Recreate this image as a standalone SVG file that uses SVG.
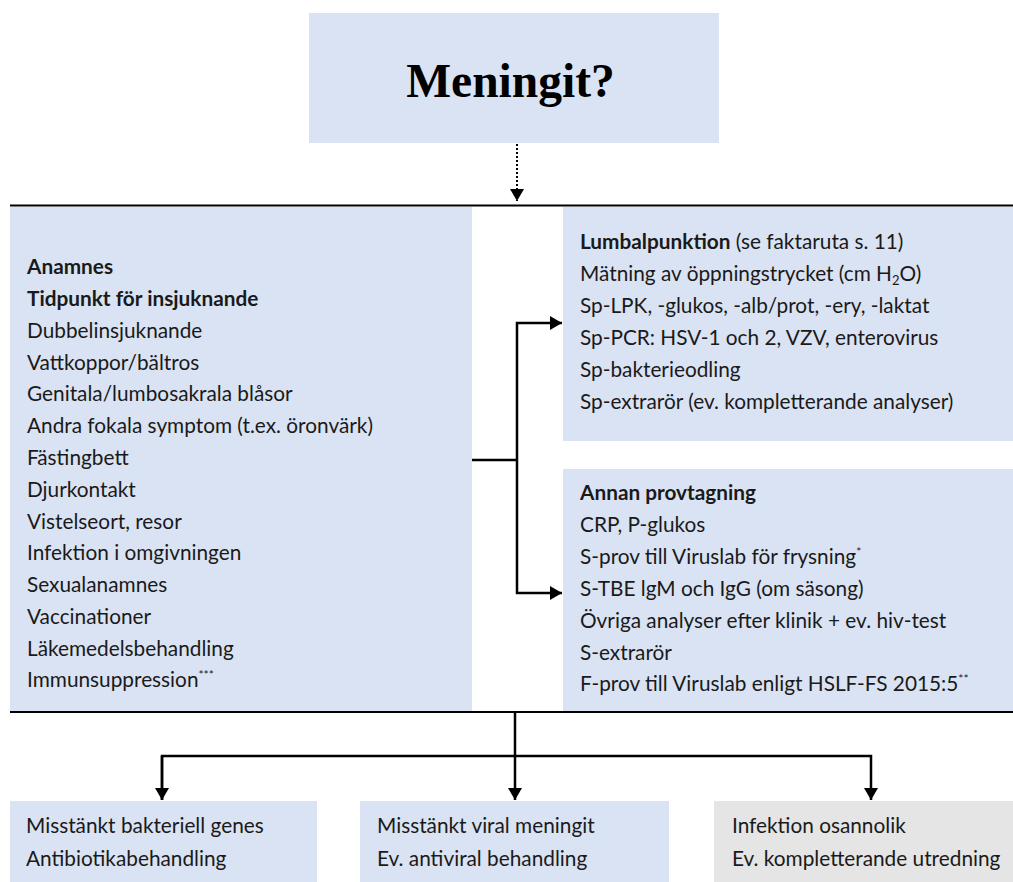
<svg xmlns="http://www.w3.org/2000/svg" width="1013" height="882" viewBox="0 0 1013 882">
<style>
.box{fill:#dae3f3}
.grey{fill:#e5e5e5}
.t{font-family:Lato,"Liberation Sans",sans-serif;font-size:20.8px;fill:#1a1a1a}
.b{font-weight:bold}
.title{font-family:"Liberation Serif","Times New Roman",serif;font-size:47.5px;font-weight:bold;fill:#000}
.ln{stroke:#000;stroke-width:2.5;fill:none}
.bar{stroke:#000;stroke-width:2;fill:none}
</style>
<defs>
<marker id="ah" markerUnits="userSpaceOnUse" markerWidth="14" markerHeight="14" viewBox="0 0 12 14" refX="12" refY="7" orient="auto">
<path d="M0,0 L12,7 L0,14 Z" fill="#000"/>
</marker>
</defs>
<g id="title-node">
<rect class="box" x="309" y="13" width="410" height="130"/>
<text class="title" x="510.5" y="97" text-anchor="middle">Meningit?</text>
</g>
<g id="anamnes-node">
<rect class="box" x="10" y="207" width="462" height="504"/>
<text class="t" x="27">
<tspan class="b" x="27" y="274">Anamnes</tspan>
<tspan class="b" x="27" y="306">Tidpunkt för insjuknande</tspan>
<tspan x="27" y="338">Dubbelinsjuknande</tspan>
<tspan x="27" y="370">Vattkoppor/bältros</tspan>
<tspan x="27" y="401">Genitala/lumbosakrala blåsor</tspan>
<tspan x="27" y="433">Andra fokala symptom (t.ex. öronvärk)</tspan>
<tspan x="27" y="465">Fästingbett</tspan>
<tspan x="27" y="497">Djurkontakt</tspan>
<tspan x="27" y="529">Vistelseort, resor</tspan>
<tspan x="27" y="560">Infektion i omgivningen</tspan>
<tspan x="27" y="592">Sexualanamnes</tspan>
<tspan x="27" y="624">Vaccinationer</tspan>
<tspan x="27" y="656">Läkemedelsbehandling</tspan>
<tspan x="27" y="687">Immunsuppression<tspan font-size="12" dy="-8">***</tspan></tspan>
</text>
</g>
<g id="lumbal-node">
<rect class="box" x="563" y="207" width="450" height="234"/>
<text class="t">
<tspan x="580" y="249"><tspan class="b">Lumbalpunktion</tspan> (se faktaruta s. 11)</tspan>
<tspan x="580" y="281">Mätning av öppningstrycket (cm H<tspan font-size="13" dy="4">2</tspan><tspan dy="-4">O)</tspan></tspan>
<tspan x="580" y="313">Sp-LPK, -glukos, -alb/prot, -ery, -laktat</tspan>
<tspan x="580" y="345">Sp-PCR: HSV-1 och 2, VZV, enterovirus</tspan>
<tspan x="580" y="377">Sp-bakterieodling</tspan>
<tspan x="580" y="409">Sp-extrarör (ev. kompletterande analyser)</tspan>
</text>
</g>
<g id="annan-node">
<rect class="box" x="563" y="469" width="450" height="242"/>
<text class="t">
<tspan class="b" x="580" y="500">Annan provtagning</tspan>
<tspan x="580" y="532">CRP, P-glukos</tspan>
<tspan x="580" y="564">S-prov till Viruslab för frysning<tspan font-size="12" dy="-8">*</tspan></tspan>
<tspan x="580" y="596">S-TBE lgM och IgG (om säsong)</tspan>
<tspan x="580" y="628">Övriga analyser efter klinik + ev. hiv-test</tspan>
<tspan x="580" y="660">S-extrarör</tspan>
<tspan x="580" y="691">F-prov till Viruslab enligt HSLF-FS 2015:5<tspan font-size="12" dy="-8">**</tspan></tspan>
</text>
</g>
<g id="bakteriell-node">
<rect class="box" x="10" y="801" width="307" height="81"/>
<text class="t"><tspan x="26" y="833">Misstänkt bakteriell genes</tspan><tspan x="26" y="866">Antibiotikabehandling</tspan></text>
</g>
<g id="viral-node">
<rect class="box" x="360" y="801" width="309" height="81"/>
<text class="t"><tspan x="377" y="833">Misstänkt viral meningit</tspan><tspan x="377" y="866">Ev. antiviral behandling</tspan></text>
</g>
<g id="osannolik-node">
<rect class="grey" x="714" y="801" width="299" height="81"/>
<text class="t"><tspan x="732" y="833">Infektion osannolik</tspan><tspan x="732" y="866">Ev. kompletterande utredning</tspan></text>
</g>
<g id="connectors">
<line class="bar" x1="10" y1="205.5" x2="1013" y2="205.5"/>
<line class="bar" x1="10" y1="712" x2="1013" y2="712"/>
<line x1="517" y1="144" x2="517" y2="201" stroke="#000" stroke-width="2" stroke-dasharray="2 2" marker-end="url(#ah)"/>
<polyline class="ln" points="472,460 517,460"/>
<polyline class="ln" points="517,460 517,323 562,323" marker-end="url(#ah)"/>
<polyline class="ln" points="517,460 517,593 562,593" marker-end="url(#ah)"/>
<line class="ln" x1="515" y1="712" x2="515" y2="800" marker-end="url(#ah)"/>
<polyline class="ln" points="162,800 162,756 871,756 871,800" marker-end="url(#ah)"/>
<polyline class="ln" points="162,756 162,800" marker-end="url(#ah)"/>
</g>
</svg>
